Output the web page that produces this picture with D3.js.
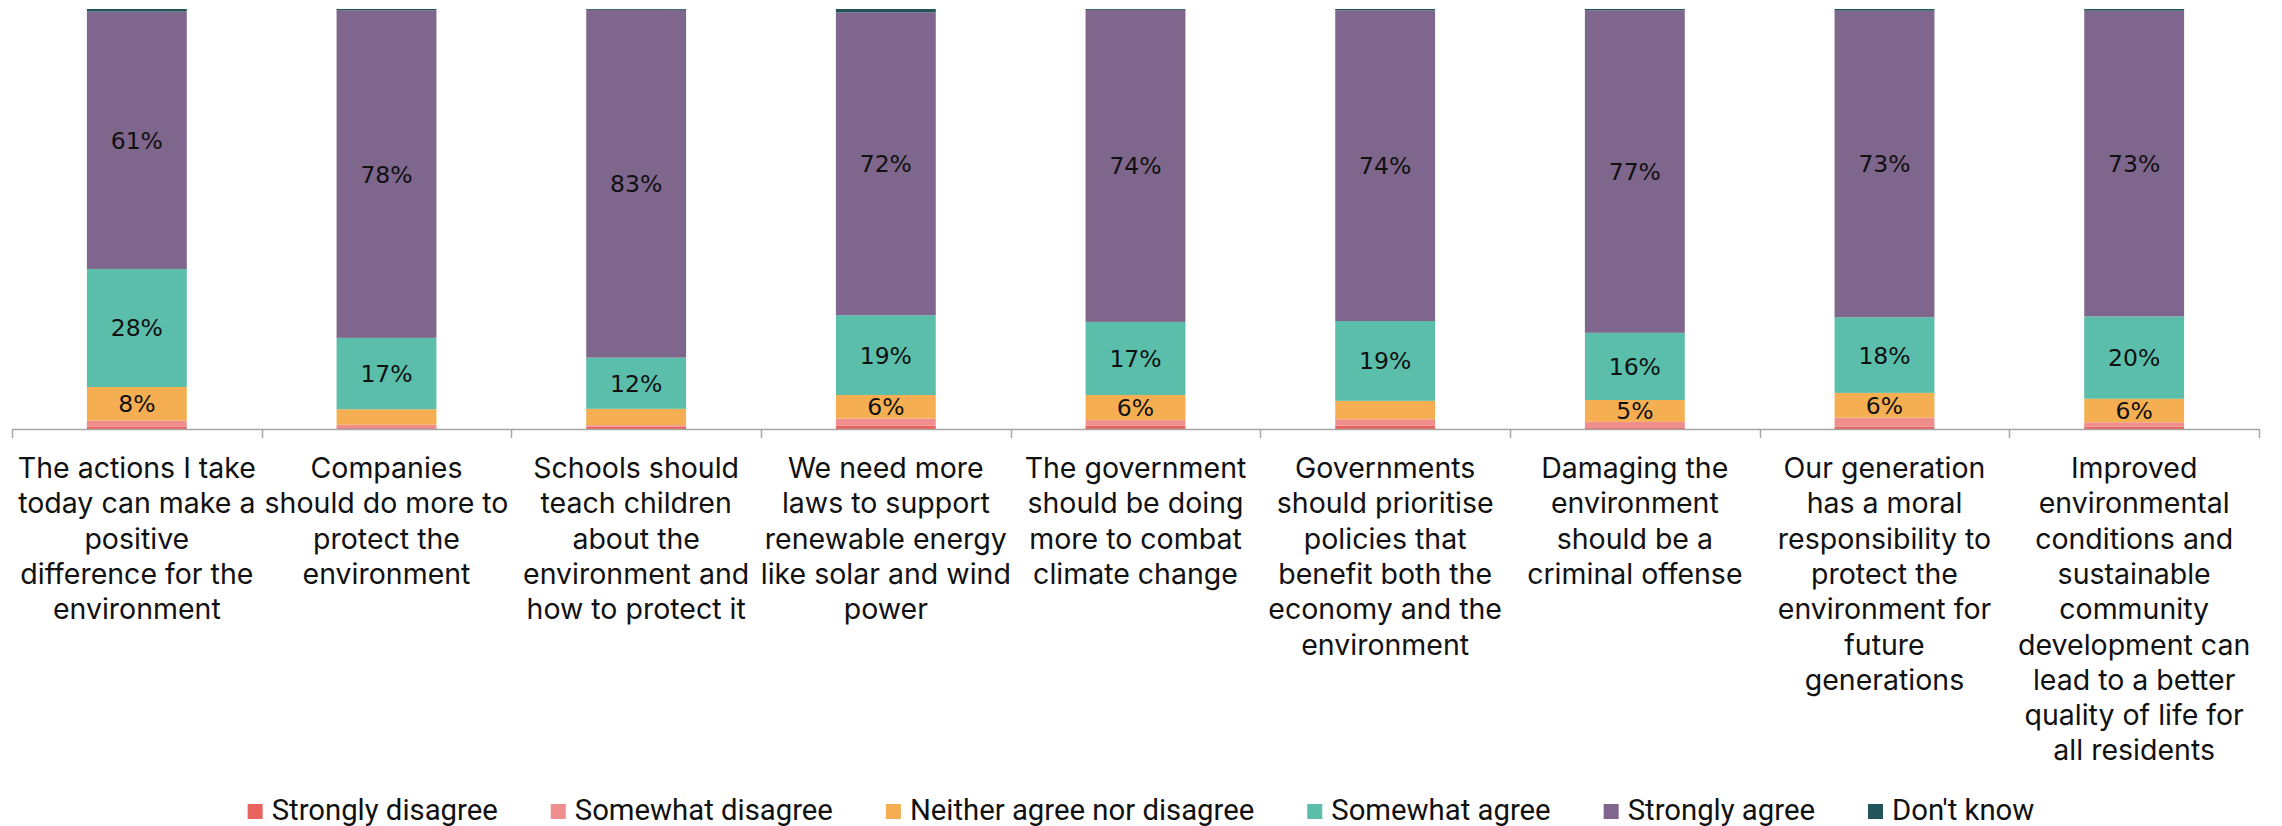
<!DOCTYPE html>
<html>
<head>
<meta charset="utf-8">
<script src="https://cdn.jsdelivr.net/npm/d3@7"></script>
<style>
  html, body { margin: 0; padding: 0; background: #fff; }
  svg { display: block; }
</style>
</head>
<body>
<div id="chart"></div>
<script>
// ---------- data ----------
const categories = [
  "The actions I take today can make a positive difference for the environment",
  "Companies should do more to protect the environment",
  "Schools should teach children about the environment and how to protect it",
  "We need more laws to support renewable energy like solar and wind power",
  "The government should be doing more to combat climate change",
  "Governments should prioritise policies that benefit both the economy and the environment",
  "Damaging the environment should be a criminal offense",
  "Our generation has a moral responsibility to protect the environment for future generations",
  "Improved environmental conditions and sustainable community development can lead to a better quality of life for all residents"
];
const labelLines = [
  ["The actions I take", "today can make a", "positive", "difference for the", "environment"],
  ["Companies", "should do more to", "protect the", "environment"],
  ["Schools should", "teach children", "about the", "environment and", "how to protect it"],
  ["We need more", "laws to support", "renewable energy", "like solar and wind", "power"],
  ["The government", "should be doing", "more to combat", "climate change"],
  ["Governments", "should prioritise", "policies that", "benefit both the", "economy and the", "environment"],
  ["Damaging the", "environment", "should be a", "criminal offense"],
  ["Our generation", "has a moral", "responsibility to", "protect the", "environment for", "future", "generations"],
  ["Improved", "environmental", "conditions and", "sustainable", "community", "development can", "lead to a better", "quality of life for", "all residents"]
];
const seriesNames = ["Strongly disagree", "Somewhat disagree", "Neither agree nor disagree", "Somewhat agree", "Strongly agree", "Don't know"];
const stronglyDisagree = [0.5, 0.2, 0.6, 0.8, 0.8, 0.8, 0.4, 0.6, 0.6];
const somewhatDisagree = [1.5, 0.8, 0.3, 1.7, 1.3, 1.5, 1.3, 2.1, 1.0];
const neither          = [8.0, 3.7, 3.9, 5.6, 6.0, 4.4, 5.2, 5.9, 5.6];
const somewhatAgree    = [28.1, 17.0, 12.2, 19.0, 17.4, 19.0, 16.0, 18.0, 19.6];
const stronglyAgree    = [61.3, 78.0, 82.8, 72.1, 74.3, 74.0, 76.8, 73.0, 72.8];
const dontKnow         = [0.6, 0.3, 0.2, 0.8, 0.2, 0.3, 0.3, 0.4, 0.4];
const colors = ["#EA645F", "#F08E8D", "#F5AF52", "#5ABEAB", "#7E668C", "#225459"];
const labelledSeries = ["Neither agree nor disagree", "Somewhat agree", "Strongly agree"];

// ---------- layout ----------
const W = 2282, H = 826;
const plot = { left: 12, right: 2259, top: 9, bottom: 429 };

const svg = d3.select("#chart").append("svg")
  .attr("width", W).attr("height", H);

const seriesValues = [stronglyDisagree, somewhatDisagree, neither, somewhatAgree, stronglyAgree, dontKnow];
const rows = categories.map((c, i) => {
  const r = { category: c };
  seriesNames.forEach((s, k) => r[s] = seriesValues[k][i]);
  return r;
});

const x = d3.scaleBand().domain(categories)
  .range([plot.left, plot.right]).paddingInner(0.6).paddingOuter(0.3);
const y = d3.scaleLinear().domain([0, 100]).range([plot.bottom, plot.top]);
const color = d3.scaleOrdinal().domain(seriesNames).range(colors);

const stacked = d3.stack().keys(seriesNames)(rows);

const layers = svg.append("g").selectAll("g").data(stacked).join("g")
  .attr("fill", d => color(d.key));
layers.selectAll("rect").data(d => d).join("rect")
  .attr("x", d => x(d.data.category))
  .attr("width", x.bandwidth())
  .attr("y", d => y(d[1]))
  .attr("height", d => y(d[0]) - y(d[1]));

// value labels
const fmt = v => d3.format(".0f")(v) + "%";
const lbl = svg.append("g")
  .attr("font-family", "'DejaVu Sans', sans-serif")
  .attr("font-size", 23.5)
  .attr("fill", "#111")
  .attr("text-anchor", "middle");
stacked.filter(s => labelledSeries.includes(s.key)).forEach(s => {
  s.forEach(d => {
    const v = d[1] - d[0];
    if (Math.round(v) >= 5) {
      lbl.append("text")
        .attr("x", x(d.data.category) + x.bandwidth() / 2)
        .attr("y", (y(d[0]) + y(d[1])) / 2)
        .attr("dy", "0.36em")
        .text(fmt(v));
    }
  });
});

// axis
const step = x.step();
const axisG = svg.append("g");
axisG.append("line")
  .attr("x1", plot.left).attr("x2", plot.right)
  .attr("y1", plot.bottom + 0.5).attr("y2", plot.bottom + 0.5)
  .attr("stroke", "#a6a6a6").attr("stroke-width", 1.5);
d3.range(categories.length + 1).forEach(i => {
  const tx = Math.round(plot.left + i * step) + 0.5;
  axisG.append("line")
    .attr("x1", tx).attr("x2", tx)
    .attr("y1", plot.bottom).attr("y2", plot.bottom + 9)
    .attr("stroke", "#a6a6a6").attr("stroke-width", 1.5);
});

// category labels
const catG = svg.append("g")
  .attr("font-family", "Inter, 'Noto Sans', sans-serif")
  .attr("font-size", 28.5)
  .attr("fill", "#111")
  .attr("text-anchor", "middle");
categories.forEach((c, i) => {
  const t = catG.append("text")
    .attr("x", x(c) + x.bandwidth() / 2)
    .attr("y", 478);
  labelLines[i].forEach((ln, j) => {
    t.append("tspan")
      .attr("x", x(c) + x.bandwidth() / 2)
      .attr("y", 478 + j * 35.3)
      .text(ln);
  });
});

// legend
const legG = svg.append("g")
  .attr("font-family", "Roboto, sans-serif")
  .attr("font-size", 29.3)
  .attr("fill", "#111");
const sq = 15, txtGap = 9, itemGap = 53;
let cx = 0;
const items = [];
seriesNames.forEach(name => {
  const g = legG.append("g");
  g.append("rect").attr("x", 0).attr("y", 804).attr("width", sq).attr("height", sq)
    .attr("fill", color(name));
  const t = g.append("text").attr("x", sq + txtGap).attr("y", 820).text(name);
  const w = sq + txtGap + t.node().getComputedTextLength();
  items.push({ g, w });
});
const total = d3.sum(items, d => d.w) + itemGap * (items.length - 1);
cx = (W - total) / 2;
items.forEach(it => {
  it.g.attr("transform", `translate(${cx},0)`);
  cx += it.w + itemGap;
});
</script>
</body>
</html>
